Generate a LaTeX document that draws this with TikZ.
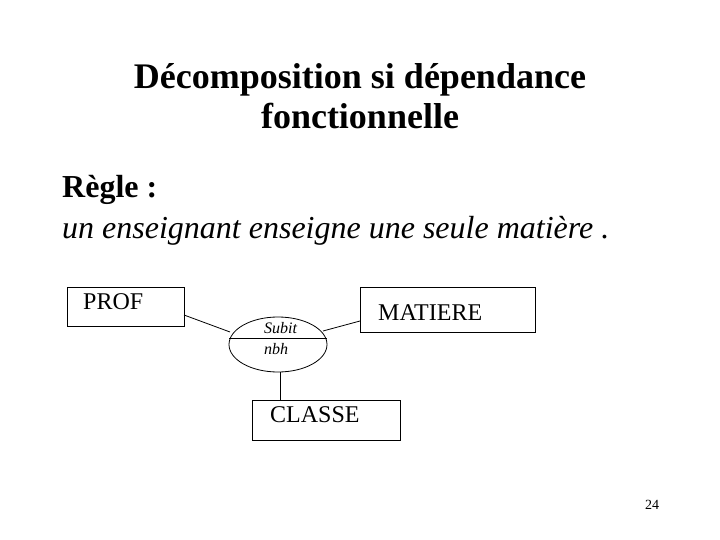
\documentclass[tikz,border=0pt]{standalone}
\usepackage{fontspec}
\setmainfont{Liberation Serif}
\usetikzlibrary{shapes.geometric}
\begin{document}
\begin{tikzpicture}[x=1pt,y=-1pt,
  box/.style={draw,line width=0.8pt},
  link/.style={line width=0.8pt},
  txt/.style={anchor=base west,inner sep=0pt}]
\useasboundingbox (0,0) rectangle (720,540);
\node[anchor=base,inner sep=0pt,font=\fontsize{36}{40}\selectfont\bfseries] (t1) at (360,89) {Décomposition si dépendance};
\node[anchor=base,inner sep=0pt,font=\fontsize{36}{40}\selectfont\bfseries] (t2) at (360,129) {fonctionnelle};
\node[txt,font=\fontsize{32}{36}\selectfont\bfseries] (r) at (62,197) {Règle :};
\node[txt,font=\fontsize{32}{36}\selectfont\itshape] (u) at (62,239) {un enseignant enseigne une seule matière .};
% boxes
\draw[box] (67,287) rectangle (184,326);
\draw[box] (360,287) rectangle (535,332);
\draw[box] (252,400) rectangle (400,440);
\node[txt,font=\fontsize{24}{28}\selectfont] (pt) at (83,309) {PROF};
\node[txt,font=\fontsize{24}{28}\selectfont] (mt) at (378,320) {MATIERE};
\node[txt,font=\fontsize{24}{28}\selectfont] (ct) at (270,422) {CLASSE};
% ellipse
\node[draw,ellipse,line width=0.8pt,minimum width=98pt,minimum height=55pt,inner sep=0pt] (e) at (278,344.5) {};
\draw[link] (229,338) -- (327,338);
\node[txt,font=\fontsize{16}{18}\selectfont\itshape] (s) at (264,333) {Subit};
\node[txt,font=\fontsize{16}{18}\selectfont\itshape] (n) at (264,354) {nbh};
% connectors
\coordinate (p1) at (184,315);
\coordinate (p2) at (230,332);
\coordinate (m1) at (323,331);
\coordinate (m2) at (360,321);
\coordinate (c1) at (280,372);
\coordinate (c2) at (280,400);
\draw[link] (p1) -- (p2);
\draw[link] (m1) -- (m2);
\draw[link] (c1) -- (c2);
\node[txt,font=\fontsize{14}{16}\selectfont] (pg) at (645,509) {24};
\end{tikzpicture}
\end{document}
